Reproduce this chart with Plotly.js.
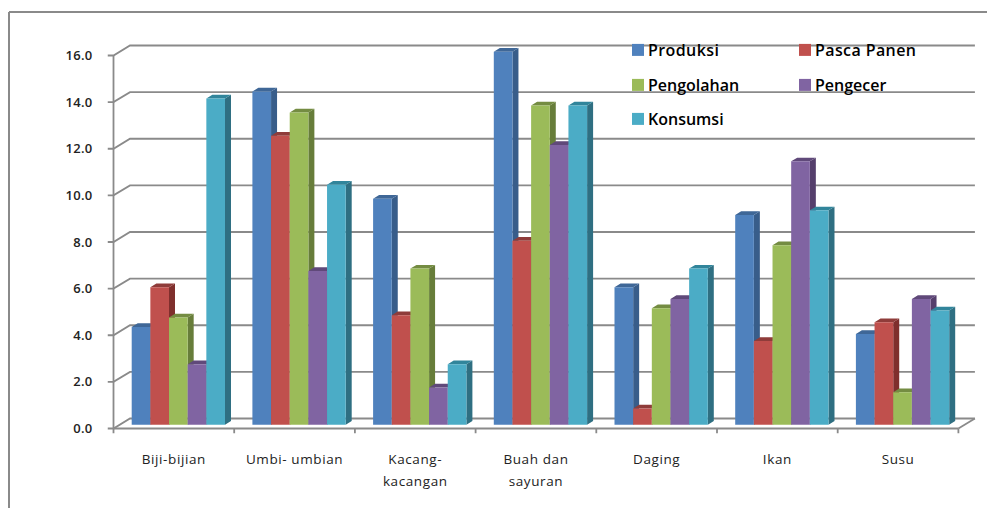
<!DOCTYPE html>
<html>
<head>
<meta charset="utf-8">
<script src="https://cdn.plot.ly/plotly-3.0.1.min.js"></script>
<style>
html,body{margin:0;padding:0;background:#fff;overflow:hidden}
#chart{width:987px;height:508px}
g.legendsymbols{transform:translateX(10px)}
.legendtext{letter-spacing:.4px}
.x2tick text{letter-spacing:.6px}
.ytick text{letter-spacing:.3px}
</style>
</head>
<body>
<div id="chart"></div>
<script>
const categories = ["Biji-bijian", "Umbi- umbian", "Kacang-<br>kacangan", "Buah dan<br>sayuran", "Daging", "Ikan", "Susu"];
const produksi   = [4.2, 14.3, 9.7, 16.0, 5.9, 9.0, 3.9];
const pascaPanen = [5.9, 12.4, 4.7, 7.9, 0.7, 3.6, 4.4];
const pengolahan = [4.6, 13.4, 6.7, 13.7, 5.0, 7.7, 1.4];
const pengecer   = [2.6, 6.6, 1.6, 12.0, 5.4, 11.3, 5.4];
const konsumsi   = [14.0, 10.3, 2.6, 13.7, 6.7, 9.2, 4.9];
const yTicks = [0, 2, 4, 6, 8, 10, 12, 14, 16];

const seriesList = [
  {name: "Produksi",    values: produksi,   front: "#4F81BD", side: "#385D8A", top: "#3F6797", legend: "legend"},
  {name: "Pasca Panen", values: pascaPanen, front: "#C0504D", side: "#7F2F2D", top: "#8F3C3A", legend: "legend"},
  {name: "Pengolahan",  values: pengolahan, front: "#9BBB59", side: "#677D3A", top: "#748C42", legend: "legend2"},
  {name: "Pengecer",    values: pengecer,   front: "#8064A2", side: "#553F6C", top: "#60497A", legend: "legend2"},
  {name: "Konsumsi",    values: konsumsi,   front: "#4BACC6", side: "#2F6F82", top: "#31859B", legend: "legend3"}
];

// Page geometry (pixels)
const W = 987, H = 508;
const frontL = 113.5, frontR = 958.4, frontT = 55.5, frontB = 428.5;
const unitX = (frontR - frontL) / 7, unitY = (frontB - frontT) / 16;
const xRange = [-6 / unitX, 7 + 20 / unitX], yRange = [-5 / unitY, 16 + 16 / unitY];
const wallDX = 16.5 / unitX, wallDY = 10 / unitY;
const barDX = 6 / unitX, barDY = 3.7 / unitY;
const baseY = 3.7 / unitY;
const groupStart = 18.2 / unitX, barW = 18.66 / unitX;
const gridColor = "#8A8A8A";
const font = "'Open Sans', sans-serif";
const px = v => v / W, py = v => 1 - v / H;

const traces = [];

// axes, walls and floor
const wallX = [], wallY = [];
yTicks.forEach(v => {
  wallX.push(xRange[0], 0, wallDX, 7 + wallDX, null);
  wallY.push(v, v, v + wallDY, v + wallDY, null);
});
wallX.push(7, 7 + wallDX, null, 0, 0, null, 0, 7, null);
wallY.push(0, wallDY, null, 0, 16, null, 0, 0, null);
for (let i = 0; i <= 7; i++) {
  wallX.push(i, i, null);
  wallY.push(0, yRange[0], null);
}
traces.push({
  type: "scatter", mode: "lines", x: wallX, y: wallY, xaxis: "x", yaxis: "y",
  line: {color: gridColor, width: 1.8}, showlegend: false, hoverinfo: "skip"
});

// depth faces of the bars, behind every front face
seriesList.forEach((s, k) => {
  const sx = [], sy = [], tx = [], ty = [];
  s.values.forEach((v, i) => {
    const l = i + groupStart + k * barW, r = l + barW, t = v + baseY;
    sx.push(r, r + barDX, r + barDX, r, r, null);
    sy.push(baseY, baseY + barDY, t + barDY, t, baseY, null);
    tx.push(l, l + barDX, r + barDX, r, l, null);
    ty.push(t, t + barDY, t + barDY, t, t, null);
  });
  [[sx, sy, s.side], [tx, ty, s.top]].forEach(([x, y, c]) => traces.push({
    type: "scatter", mode: "none", x, y, xaxis: "x", yaxis: "y", fill: "toself", fillcolor: c,
    showlegend: false, hoverinfo: "skip"
  }));
});

// front faces
seriesList.forEach((s, k) => {
  traces.push({
    type: "bar", name: s.name, legend: s.legend,
    x: categories.map((_, i) => i), y: s.values, base: baseY,
    offset: groupStart + k * barW, width: barW,
    xaxis: "x2", yaxis: "y2",
    marker: {color: s.front, line: {width: 0}},
    hovertemplate: s.name + ": %{y:.1f}<extra></extra>"
  });
});

const legendBase = {
  orientation: "h", xanchor: "left", yanchor: "middle", x: px(608),
  bgcolor: "rgba(0,0,0,0)", borderwidth: 0, entrywidthmode: "pixels", entrywidth: 122,
  font: {family: font, size: 16, color: "#000", weight: 600}, traceorder: "normal"
};

const xDomain = [px(frontL + xRange[0] * unitX), px(frontL + xRange[1] * unitX)];
const yDomain = [py(frontB - yRange[0] * unitY), py(frontB - yRange[1] * unitY)];
const layout = {
  width: W, height: H, margin: {l: 0, r: 0, t: 0, b: 0, pad: 0},
  paper_bgcolor: "#fff", plot_bgcolor: "rgba(0,0,0,0)", barmode: "overlay",
  xaxis: {domain: xDomain, range: xRange, showticklabels: false, ticks: "", showline: false, showgrid: false, zeroline: false},
  yaxis: {
    domain: yDomain, range: yRange, tickmode: "array", tickvals: yTicks, tickformat: ".1f",
    ticks: "", ticklabelstandoff: 14, showline: false, showgrid: false, zeroline: false,
    tickfont: {family: font, size: 13, color: "#222", weight: 600}
  },
  xaxis2: {
    overlaying: "x", anchor: "y2", side: "bottom", domain: xDomain, range: xRange,
    tickmode: "array", tickvals: categories.map((_, i) => i + 0.5),
    ticktext: categories.map(c => c.split("<br>").map(t => '<span style="font-size:13.5px">' + t + "</span>").join("<br>")),
    ticks: "", ticklabelstandoff: 12, showgrid: false, zeroline: false, showline: false,
    tickangle: 0, tickfont: {family: font, size: 17, color: "#222"}
  },
  yaxis2: {overlaying: "y", domain: yDomain, range: yRange, visible: false, fixedrange: true},
  legend:  Object.assign({}, legendBase, {y: py(50)}),
  legend2: Object.assign({}, legendBase, {y: py(85)}),
  legend3: Object.assign({}, legendBase, {y: py(119)}),
  shapes: [
    {type: "line", xref: "paper", yref: "paper", x0: px(9), x1: px(9), y0: py(12), y1: 0, line: {color: "#8A8A8A", width: 2}},
    {type: "line", xref: "paper", yref: "paper", x0: px(9), x1: 1, y0: py(12), y1: py(12), line: {color: "#8A8A8A", width: 2}}
  ],
  showlegend: true, hovermode: "closest"
};

Plotly.newPlot("chart", traces, layout, {displayModeBar: false, responsive: false});
</script>
</body>
</html>
